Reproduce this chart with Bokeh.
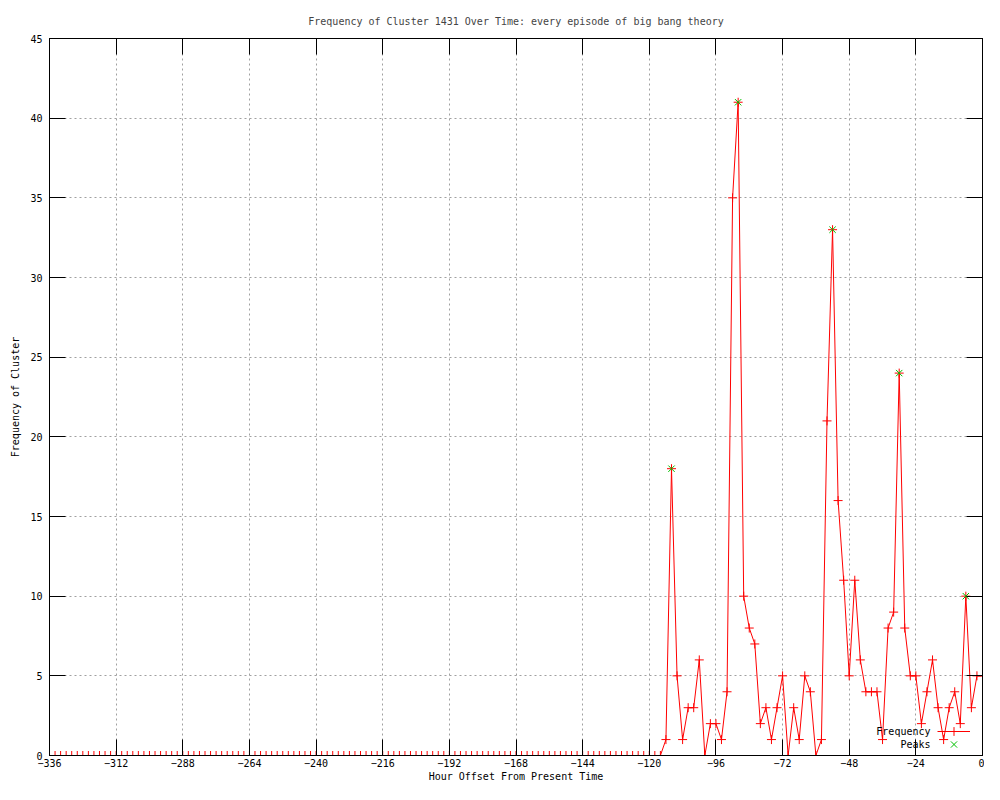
from bokeh.plotting import figure
from bokeh.models import Range1d, FixedTicker, LinearAxis, Legend, LegendItem, Label
from bokeh.embed import file_html
from bokeh.resources import INLINE

# ---- data ----
hours = list(range(-336, 1, 2))
freq = [
    0, 0, 0, 0, 0, 0, 0, 0, 0, 0, 0, 0, 0, 0, 0, 0, 0, 0, 0, 0,
    0, 0, 0, 0, 0, 0, 0, 0, 0, 0, 0, 0, 0, 0, 0, 0, 0, 0, 0, 0,
    0, 0, 0, 0, 0, 0, 0, 0, 0, 0, 0, 0, 0, 0, 0, 0, 0, 0, 0, 0,
    0, 0, 0, 0, 0, 0, 0, 0, 0, 0, 0, 0, 0, 0, 0, 0, 0, 0, 0, 0,
    0, 0, 0, 0, 0, 0, 0, 0, 0, 0, 0, 0, 0, 0, 0, 0, 0, 0, 0, 0,
    0, 0, 0, 0, 0, 0, 0, 0, 0, 0, 0,
    1, 18, 5, 1, 3, 3, 6, 0, 2, 2, 1, 4, 35, 41, 10, 8, 7, 2, 3, 1,
    3, 5, 0, 3, 1, 5, 4, 0, 1, 21, 33, 16, 11, 5, 11, 6, 4, 4, 4, 1,
    8, 9, 24, 8, 5, 5, 2, 4, 6, 3, 1, 3, 4, 2, 10, 3, 5, 5,
]
peak_hours = [-112, -88, -54, -30, -6]
peak_vals = [18, 41, 33, 24, 10]
x_ticks = [-336, -312, -288, -264, -240, -216, -192, -168, -144, -120, -96, -72, -48, -24, 0]
y_ticks = [0, 5, 10, 15, 20, 25, 30, 35, 40, 45]

FONT = "DejaVu Sans Mono"
FS = "10px"

p = figure(width=984, height=784, output_backend="svg", toolbar_location=None,
           x_range=Range1d(-336, 0), y_range=Range1d(0, 45),
           min_border_left=49, min_border_right=2, min_border_top=38, min_border_bottom=27)

p.title.text = "Frequency of Cluster 1431 Over Time: every episode of big bang theory"
p.title.align = "center"
p.title.text_font = FONT
p.title.text_font_size = FS
p.title.text_font_style = "normal"
p.title.standoff = 23

p.outline_line_color = "black"
p.outline_line_alpha = 1
p.background_fill_color = "white"
p.border_fill_color = "white"

# main axes
for ax, ticks in ((p.xaxis[0], x_ticks), (p.yaxis[0], y_ticks)):
    ax.ticker = FixedTicker(ticks=ticks)
    ax.major_tick_in = 16
    ax.major_tick_out = 0
    ax.minor_tick_line_color = None
    ax.axis_line_color = "black"
    ax.major_tick_line_color = "black"
    ax.major_label_text_font = FONT
    ax.major_label_text_font_size = FS
    ax.major_label_text_color = "black"
    ax.axis_label_text_font = FONT
    ax.axis_label_text_font_size = FS
    ax.axis_label_text_font_style = "normal"
    ax.axis_label_text_color = "black"

p.xaxis[0].axis_label = "Hour Offset From Present Time"
p.xaxis[0].major_label_standoff = 3
p.xaxis[0].axis_label_standoff = 1
p.yaxis[0].axis_label = "Frequency of Cluster"
p.yaxis[0].major_label_standoff = 7
p.yaxis[0].axis_label_standoff = 6

# mirrored ticks (top / right), no labels
top = LinearAxis(ticker=FixedTicker(ticks=x_ticks), major_tick_in=16, major_tick_out=0,
                 minor_tick_line_color=None, major_label_text_font_size="0px",
                 major_label_text_color=None, major_label_standoff=0, axis_line_color="black")
right = LinearAxis(ticker=FixedTicker(ticks=y_ticks), major_tick_in=16, major_tick_out=0,
                   minor_tick_line_color=None, major_label_text_font_size="0px",
                   major_label_text_color=None, major_label_standoff=0, axis_line_color="black")
p.add_layout(top, "above")
p.add_layout(right, "right")

# grid
p.xgrid.ticker = FixedTicker(ticks=x_ticks)
p.ygrid.ticker = FixedTicker(ticks=y_ticks)
for g in (p.xgrid[0], p.ygrid[0]):
    g.grid_line_color = "#a0a0a0"
    g.grid_line_dash = "2 3"
    g.grid_line_width = 1

# series
r_line = p.line(hours, freq, line_color="red", line_width=1)
r_pts = p.scatter(hours, freq, marker="cross", size=9, line_color="red", line_width=1)
r_peak = p.scatter(peak_hours, peak_vals, marker="x", size=9, line_color="#00c000", line_width=1)

# key: glyph samples (Bokeh legends) + right-aligned texts to their left, gnuplot style
leg_kw = dict(padding=0, spacing=0, margin=0, glyph_width=33, glyph_height=22,
              label_width=0, label_height=22, label_standoff=0, border_line_color=None,
              background_fill_alpha=0, label_text_font_size=FS)
p.add_layout(Legend(items=[LegendItem(label=" ", renderers=[r_line, r_pts])],
                    location=(888, 13), **leg_kw))
p.add_layout(Legend(items=[LegendItem(label=" ", renderers=[r_peak])],
                    location=(888, 0), **leg_kw))

p.add_layout(Label(x=881, y=24, x_units="screen", y_units="screen", text="Frequency",
                   text_align="right", text_baseline="middle", text_font=FONT,
                   text_font_size=FS, text_color="black"))
p.add_layout(Label(x=881, y=11, x_units="screen", y_units="screen", text="Peaks",
                   text_align="right", text_baseline="middle", text_font=FONT,
                   text_font_size=FS, text_color="black"))

open("out.html", "w").write(file_html(p, INLINE))
